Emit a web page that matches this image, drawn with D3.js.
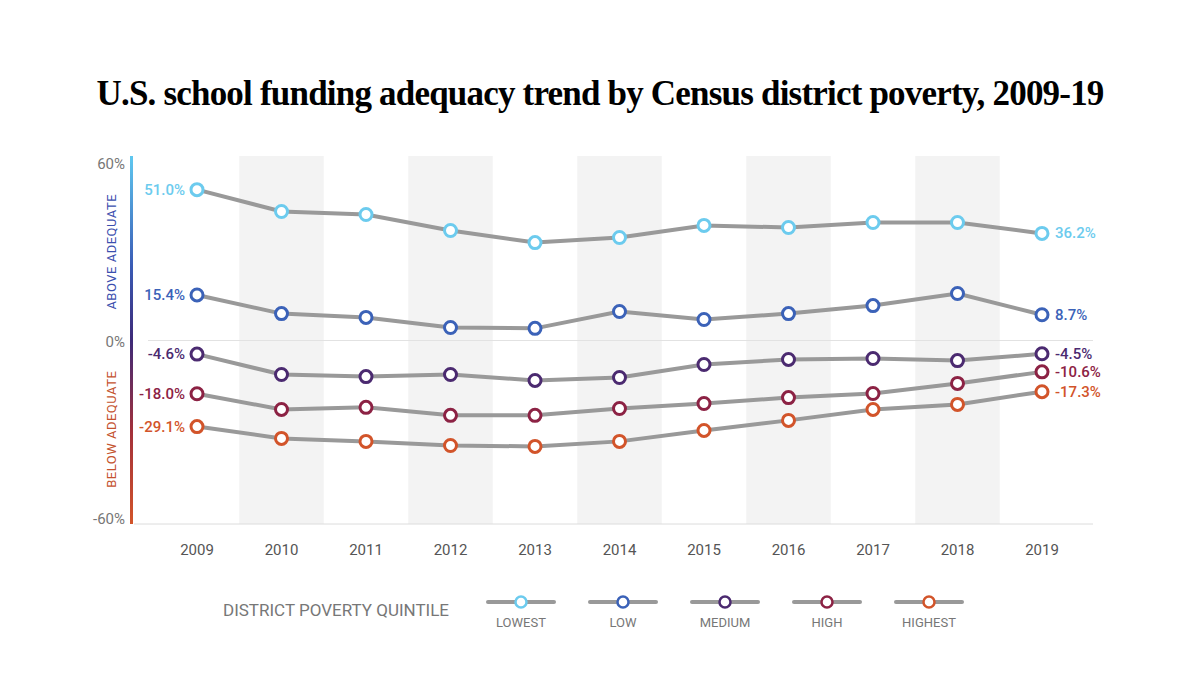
<!DOCTYPE html>
<html>
<head>
<meta charset="utf-8">
<script src="https://cdn.jsdelivr.net/npm/d3@7"></script>
<style>
  body { margin: 0; background: #fff; }
  text { font-family: Roboto, sans-serif; }
</style>
</head>
<body>
<svg id="chart" width="1200" height="686"></svg>
<script>
const years = [2009, 2010, 2011, 2012, 2013, 2014, 2015, 2016, 2017, 2018, 2019];
const quintiles = ["LOWEST", "LOW", "MEDIUM", "HIGH", "HIGHEST"];
const colors = ["#6ccbee", "#3b62b8", "#4b2a70", "#8c2244", "#d2542a"];
const lowest = [51.0, 43.6, 42.6, 37.2, 33.1, 34.8, 38.9, 38.2, 39.9, 39.9, 36.2];
const low = [15.4, 9.1, 7.8, 4.4, 4.1, 9.8, 7.1, 9.1, 11.8, 15.9, 8.7];
const medium = [-4.6, -11.5, -12.2, -11.5, -13.5, -12.5, -8.1, -6.4, -6.1, -6.8, -4.5];
const high = [-18.0, -23.3, -22.6, -25.3, -25.3, -23.0, -21.3, -19.3, -17.9, -14.5, -10.6];
const highest = [-29.1, -33.1, -34.1, -35.5, -35.8, -34.1, -30.4, -27.0, -23.3, -21.6, -17.3];
const yTicks = [60, 0, -60];
const series = [lowest, low, medium, high, highest];

const svg = d3.select("#chart");
var margin = { top: 163, bottom: 518, left: 131, right: 1093 };

const x = d3.scalePoint().domain(years).range([197, 1042]);
const step = x.step();
const y = d3.scaleLinear().domain([-60, 60]).range([margin.bottom, margin.top]);

// title
svg.append("text")
  .attr("x", 600).attr("y", 105)
  .attr("text-anchor", "middle")
  .style("font-family", "'Liberation Serif', serif")
  .style("font-weight", "bold")
  .style("font-size", "35px")
  .style("letter-spacing", "-0.8px")
  .text("U.S. school funding adequacy trend by Census district poverty, 2009-19");

// alternating shaded bands
svg.append("g").selectAll("rect")
  .data(years.filter((d, i) => i % 2 === 1))
  .enter().append("rect")
  .attr("x", d => x(d) - step / 2)
  .attr("width", step)
  .attr("y", 156)
  .attr("height", 524 - 156)
  .attr("fill", "#f3f3f3");

// zero line and bottom line
svg.append("line").attr("x1", 148).attr("x2", margin.right)
  .attr("y1", y(0)).attr("y2", y(0)).attr("stroke", "#e2e2e2");
svg.append("line").attr("x1", 134).attr("x2", margin.right)
  .attr("y1", 524).attr("y2", 524).attr("stroke", "#dcdcdc");

// gradient side bar
const grad = svg.append("defs").append("linearGradient")
  .attr("id", "side").attr("x1", 0).attr("x2", 0).attr("y1", 0).attr("y2", 1);
[["0%", "#5fc8f0"], ["30%", "#3a5bb5"], ["50%", "#3d2a78"], ["75%", "#a3303a"], ["100%", "#d2542a"]]
  .forEach(s => grad.append("stop").attr("offset", s[0]).attr("stop-color", s[1]));
svg.append("rect").attr("x", 130).attr("y", 156).attr("width", 3)
  .attr("height", 524 - 156).attr("fill", "url(#side)");

// y tick labels
svg.append("g").selectAll("text")
  .data(yTicks)
  .enter().append("text")
  .attr("x", 125)
  .attr("y", d => y(d) + 6)
  .attr("text-anchor", "end")
  .attr("fill", "#777")
  .style("font-size", "15px")
  .text(d => d + "%");

svg.append("text")
  .attr("transform", "translate(116," + y(30) + ") rotate(-90)")
  .attr("text-anchor", "middle").attr("fill", "#3b4fae")
  .style("font-size", "13px").style("letter-spacing", "0.5px")
  .text("ABOVE ADEQUATE");
svg.append("text")
  .attr("transform", "translate(116," + y(-30) + ") rotate(-90)")
  .attr("text-anchor", "middle").attr("fill", "#c4522e")
  .style("font-size", "13px").style("letter-spacing", "0.5px")
  .text("BELOW ADEQUATE");

// x labels
svg.append("g").selectAll("text")
  .data(years)
  .enter().append("text")
  .attr("x", d => x(d)).attr("y", 555)
  .attr("text-anchor", "middle").attr("fill", "#555")
  .style("font-size", "15px")
  .text(d => d);

// lines and markers
const line = d3.line().x((d, i) => x(years[i])).y(d => y(d));
series.forEach((s, k) => {
  svg.append("path").attr("d", line(s))
    .attr("fill", "none").attr("stroke", "#999").attr("stroke-width", 4);
  svg.append("g").selectAll("circle")
    .data(s).enter().append("circle")
    .attr("cx", (d, i) => x(years[i])).attr("cy", d => y(d))
    .attr("r", 6).attr("fill", "#fff")
    .attr("stroke", colors[k]).attr("stroke-width", 3);
  const fmt = d => d.toFixed(1) + "%";
  svg.append("text").attr("x", x(years[0]) - 12).attr("y", y(s[0]) + 5)
    .attr("text-anchor", "end").attr("fill", colors[k])
    .style("font-size", "15px").style("font-weight", "500").text(fmt(s[0]));
  svg.append("text").attr("x", x(years[10]) + 13).attr("y", y(s[10]) + 5)
    .attr("fill", colors[k])
    .style("font-size", "15px").style("font-weight", "500").text(fmt(s[10]));
});

// legend
svg.append("text").attr("x", 223).attr("y", 616)
  .attr("fill", "#777").style("font-size", "17px")
  .text("DISTRICT POVERTY QUINTILE");
const lx = d3.scalePoint().domain(quintiles).range([521, 929]);
const lg = svg.append("g").selectAll("g").data(quintiles).enter().append("g")
  .attr("transform", d => "translate(" + lx(d) + ",602)");
lg.append("line").attr("x1", -33).attr("x2", 33)
  .attr("stroke", "#999").attr("stroke-width", 4).attr("stroke-linecap", "round");
lg.append("circle").attr("r", 5.5).attr("fill", "#fff")
  .attr("stroke", (d, i) => colors[i]).attr("stroke-width", 2.5);
lg.append("text").attr("y", 25).attr("text-anchor", "middle")
  .attr("fill", "#777").style("font-size", "13px").text(d => d);
</script>
</body>
</html>
